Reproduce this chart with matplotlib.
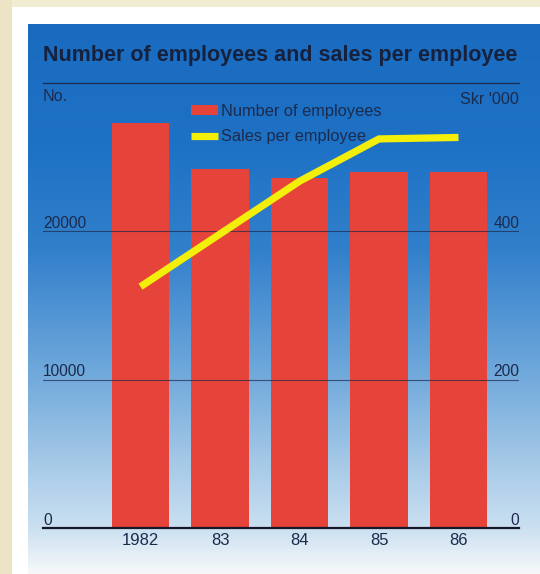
import numpy as np
import matplotlib
matplotlib.use("Agg")
import matplotlib.pyplot as plt
from matplotlib.colors import to_rgb

# ---- data ----
years = ["1982", "83", "84", "85", "86"]
employees = [27300, 24200, 23600, 24000, 24000]          # No.
sales_per_employee = [325, 396, 467, 524, 526]           # Skr '000
left_ticks = [0, 10000, 20000]
right_ticks = [0, 200, 400]

title = "Number of employees and sales per employee"
left_unit = "No."
right_unit = "Skr '000"
legend_labels = ["Number of employees", "Sales per employee"]

# ---- styling ----
W, H, DPI = 540, 574, 100
plt.rcParams["font.family"] = ["Liberation Sans", "DejaVu Sans"]
ink = "#1c2a4c"
title_ink = "#16213d"
bar_color = "#e6443b"
line_color = "#f3ee0a"


def px(x, y):
    """pixel (from top-left) -> figure fraction"""
    return x / W, 1 - y / H


fig = plt.figure(figsize=(W / DPI, H / DPI), dpi=DPI)

# background: paper, white mount, blue vertical gradient panel
bg = np.ones((H, W, 3))
paper = np.array(to_rgb("#ece4c4"))
bg[:7, :, :] = np.array(to_rgb("#f1edd3"))
bg[:, :12, :] = paper
stops_y = [24, 150, 250, 380, 460, 530, 560, 574]
stops_c = ["#1a6bc0", "#1e72c5", "#3280cb", "#74abdc", "#a4c8e7",
           "#cce1f1", "#eaf2f7", "#f7f9f9"]
cols = np.array([to_rgb(c) for c in stops_c])
ys = np.arange(H)
grad = np.stack([np.interp(ys, stops_y, cols[:, k]) for k in range(3)], axis=1)
bg[24:, 28:, :] = grad[24:, None, :]
bax = fig.add_axes([0, 0, 1, 1])
bax.imshow(bg, aspect="auto", interpolation="bilinear")
bax.set_axis_off()

# main axes: x spans pixels 43..519, y 0 at px 528, 30000 at px 82.5
x0, x1 = 43, 519
y_zero, y_top = 528, 82.5
ax = fig.add_axes([x0 / W, 1 - y_zero / H, (x1 - x0) / W, (y_zero - y_top) / H])
ax.patch.set_alpha(0)
pos = np.arange(len(years))
step = 79.5
ax.set_xlim(-(140.5 - x0) / step, (x1 - 140.5) / step)
ax.set_ylim(0, 30000)

bars = ax.bar(pos, employees, width=0.717, color=bar_color, zorder=2,
              label=legend_labels[0])

for v in left_ticks[1:]:
    ax.axhline(v, color=ink, lw=0.8, alpha=0.7, zorder=3)

ax2 = ax.twinx()
ax2.set_ylim(0, 600)
line, = ax2.plot(pos, sales_per_employee, color=line_color, lw=5.2,
                 solid_capstyle="butt", solid_joinstyle="miter", zorder=4,
                 label=legend_labels[1])

for a in (ax, ax2):
    for s in a.spines.values():
        s.set_visible(False)
    a.set_yticks([])
ax2.set_xticks([])

ax.spines["top"].set_visible(True)
ax.spines["top"].set_color(ink)
ax.spines["top"].set_linewidth(0.9)
ax.spines["bottom"].set_visible(True)
ax.spines["bottom"].set_color("#16182a")
ax.spines["bottom"].set_linewidth(1.6)

ax.set_xticks(pos)
ax.set_xticklabels(years)
ax.tick_params(axis="x", length=0, pad=3.5, labelsize=12, labelcolor=ink)

# axis value labels sitting just above their lines
for v in left_ticks:
    ax.text(0.0, v, str(v), transform=ax.get_yaxis_transform(),
            ha="left", va="bottom", fontsize=11.2, color=ink)
for v in right_ticks:
    ax2.text(1.0, v, str(v), transform=ax2.get_yaxis_transform(),
             ha="right", va="bottom", fontsize=11.2, color=ink)

# titles and units
tx, ty = px(43, 61)
fig.text(tx, ty, title, fontsize=15.5, fontweight="bold", color=title_ink,
         ha="left", va="baseline")
ux, uy = px(43, 101)
fig.text(ux, uy, left_unit, fontsize=11.6, color=ink, ha="left", va="baseline")
rx, ry = px(519, 104)
fig.text(rx, ry, right_unit, fontsize=11.6, color=ink, ha="right", va="baseline")

lx, ly = px(191, 104)
leg = fig.legend(handles=[bars, line], labels=legend_labels,
                 loc="upper left", bbox_to_anchor=(lx, ly),
                 frameon=False, fontsize=11.8, borderpad=0, borderaxespad=0,
                 handlelength=1.65, handleheight=0.61, handletextpad=0.18,
                 labelspacing=0.63)
for t in leg.get_texts():
    t.set_color(ink)

fig.savefig("out.png", dpi=DPI)
